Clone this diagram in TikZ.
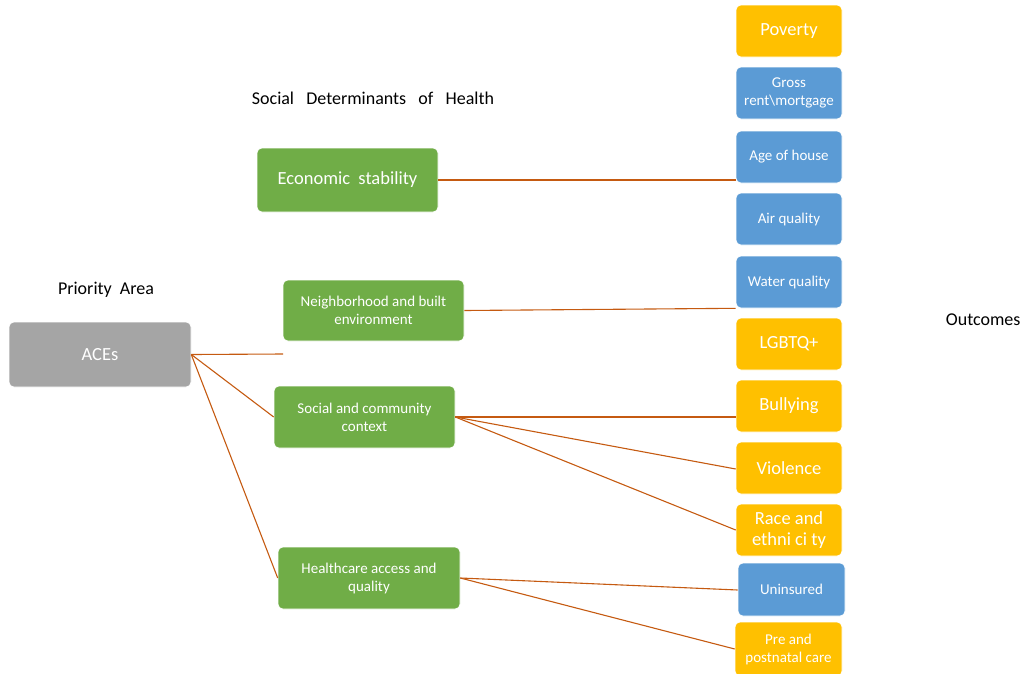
\documentclass[tikz,border=0pt]{standalone}
\usepackage{fontspec}
\setmainfont{Carlito}
\definecolor{gGreen}{HTML}{70AD47}
\definecolor{gGray}{HTML}{A5A5A5}
\definecolor{gBlue}{HTML}{5B9BD5}
\definecolor{gGold}{HTML}{FFC000}
\definecolor{gLine}{HTML}{C55A11}
\begin{document}
\begin{tikzpicture}[x=1pt,y=-1pt,
  box/.style={rounded corners=5pt,draw=white,line width=0.6pt,text=white,align=center,inner sep=2pt},
  greenbox/.style={box,fill=gGreen},
  graybox/.style={box,fill=gGray},
  bluebox/.style={box,fill=gBlue},
  goldbox/.style={box,fill=gGold},
  big/.style={font=\fontsize{18.5}{21}\selectfont},
  small/.style={font=\fontsize{15}{18}\selectfont},
  link/.style={draw=gLine,line width=1.1pt},
  lbl/.style={font=\fontsize{18}{21}\selectfont,text=black}]
\useasboundingbox (0,0) rectangle (1026,673);
\node[graybox,big,minimum width=182pt,minimum height=65pt] (aces) at (100,354.5) {ACEs};
\node[greenbox,big,minimum width=181pt,minimum height=64pt] (econ) at (347.5,180) {Economic\ \ stability};
\node[greenbox,small,minimum width=181pt,minimum height=61pt] (neigh) at (373.5,310.5) {Neighborhood and built\\environment};
\node[greenbox,small,minimum width=181pt,minimum height=62pt] (social) at (364.5,417) {Social and community\\context};
\node[greenbox,small,minimum width=182pt,minimum height=62pt] (health) at (369,578) {Healthcare access and\\quality};
% outcomes column
\node[goldbox,big,minimum width=106pt,minimum height=52pt] (poverty) at (789,31) {Poverty};
\node[bluebox,small,minimum width=106pt,minimum height=52pt] (gross) at (789,93) {Gross\\rent\textbackslash mortgage};
\node[bluebox,small,minimum width=106pt,minimum height=52pt] (age) at (789,157) {Age of house};
\node[bluebox,small,minimum width=106pt,minimum height=52pt] (air) at (789,219) {Air quality};
\node[bluebox,small,minimum width=106pt,minimum height=52pt] (water) at (789,282) {Water quality};
\node[goldbox,big,minimum width=106pt,minimum height=52pt] (lgbtq) at (789,344) {LGBTQ+};
\node[goldbox,big,minimum width=106pt,minimum height=52pt] (bully) at (789,406) {Bullying};
\node[goldbox,big,minimum width=106pt,minimum height=52pt] (viol) at (789,468) {Violence};
\node[goldbox,big,minimum width=106pt,minimum height=52pt] (race) at (789,530) {Race and\\ethni ci ty};
\node[bluebox,small,minimum width=107pt,minimum height=53pt] (unins) at (791.5,589.5) {Uninsured};
\node[goldbox,small,minimum width=107pt,minimum height=54pt] (prenat) at (788.5,649) {Pre and\\postnatal care};
% labels
\node[lbl] (prio) at (106,290) {Priority\ \ Area};
\node[lbl] (sdoh) at (373,98) {Social\ \ \ Determinants\ \ \ of\ \ \ Health};
\node[lbl,anchor=east] (outc) at (1024,320) {Outcomes};
% connectors
\coordinate (acesend) at (283,354);
\draw[link] (aces.east) -- (acesend);
\draw[link] (aces.east) -- (social.west);
\draw[link] (aces.east) -- (health.west);
\draw[link] (econ.east) -- (age.west |- econ.east);
\draw[link] (neigh.east) -- (water.south west);
\draw[link] (social.east) -- (bully.west |- social.east);
\draw[link] (social.east) -- ([yshift=-1pt]viol.west);
\draw[link] (social.east) -- (race.west);
\draw[link] (health.east) -- ([yshift=-0.5pt]unins.west);
\draw[link] (health.east) -- (prenat.west);
\end{tikzpicture}
\end{document}
